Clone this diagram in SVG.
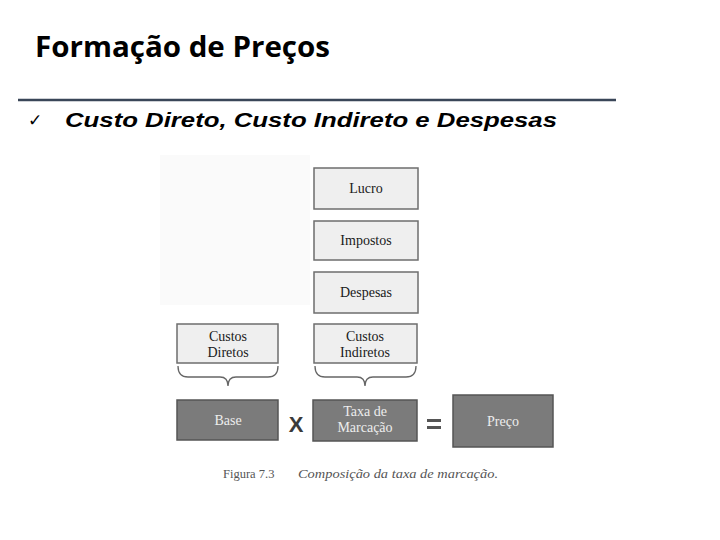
<svg xmlns="http://www.w3.org/2000/svg" width="720" height="540" viewBox="0 0 720 540">
<style>
.light{fill:#efefef;stroke:#6e6e6e;stroke-width:1.5}
.dark{fill:#7b7b7b;stroke:#555;stroke-width:1.5}
.lt{font-family:"Liberation Serif",serif;font-size:14px;fill:#1a1a1a;text-anchor:middle}
.dt{font-family:"Liberation Serif",serif;font-size:14px;fill:#ededed;text-anchor:middle}
.brace{fill:none;stroke:#666;stroke-width:1.3}
</style>
<rect width="720" height="540" fill="#ffffff"/>
<g id="title">
<text x="35" y="57" font-family="'Open Sans',sans-serif" font-weight="bold" font-size="28" fill="#000" textLength="295" lengthAdjust="spacingAndGlyphs">Formação de Preços</text>
</g>
<line x1="18" y1="100" x2="616" y2="100" stroke="#3a4658" stroke-width="2.5"/>
<g id="subtitle">
<text x="28" y="126" font-family="'DejaVu Sans',sans-serif" font-size="17" fill="#000">✓</text>
<text x="65" y="127" font-family="'Liberation Sans',sans-serif" font-weight="bold" font-style="italic" font-size="20" fill="#000" textLength="492" lengthAdjust="spacingAndGlyphs">Custo Direto, Custo Indireto e Despesas</text>
</g>
<rect x="160" y="155" width="150" height="150" fill="#fafafa"/>
<g id="lucro"><rect class="light" x="314" y="168" width="104" height="41"/><text class="lt" x="366" y="193">Lucro</text></g>
<g id="impostos"><rect class="light" x="314" y="221" width="104" height="39"/><text class="lt" x="366" y="245">Impostos</text></g>
<g id="despesas"><rect class="light" x="314" y="272" width="104" height="41"/><text class="lt" x="366" y="297">Despesas</text></g>
<g id="custos-diretos"><rect class="light" x="177" y="324" width="101" height="39"/><text class="lt" x="228" y="341">Custos</text><text class="lt" x="228" y="357">Diretos</text></g>
<g id="custos-indiretos"><rect class="light" x="314" y="324" width="103" height="39"/><text class="lt" x="365" y="341">Custos</text><text class="lt" x="365" y="357">Indiretos</text></g>
<g id="connectors">
<path class="brace" d="M178,366 Q178,377 188,377 L220,377 Q228,377 228,386 Q228,377 236,377 L268,377 Q278,377 278,366"/>
<path class="brace" d="M315,366 Q315,377 325,377 L357,377 Q365,377 365,386 Q365,377 373,377 L406,377 Q416,377 416,366"/>
</g>
<g id="base"><rect class="dark" x="177" y="400" width="101" height="40"/><text class="dt" x="228" y="425">Base</text></g>
<text x="296" y="432" font-family="'Liberation Sans',sans-serif" font-weight="bold" font-size="22" fill="#3a3a3a" text-anchor="middle">X</text>
<g id="taxa"><rect class="dark" x="313" y="400" width="104" height="41"/><text class="dt" x="365" y="416">Taxa de</text><text class="dt" x="365" y="432">Marcação</text></g>
<g id="equals"><rect x="427" y="419" width="14" height="3" fill="#555"/><rect x="427" y="426" width="14" height="3" fill="#555"/></g>
<g id="preco"><rect class="dark" x="453" y="395" width="100" height="52"/><text class="dt" x="503" y="426">Preço</text></g>
<g id="caption">
<text x="223" y="478" font-family="'Liberation Serif',serif" font-size="12.5" fill="#555">Figura 7.3</text>
<text x="298" y="478" font-family="'Liberation Serif',serif" font-style="italic" font-size="12.5" fill="#555" textLength="200" lengthAdjust="spacingAndGlyphs">Composição da taxa de marcação.</text>
</g>
</svg>
